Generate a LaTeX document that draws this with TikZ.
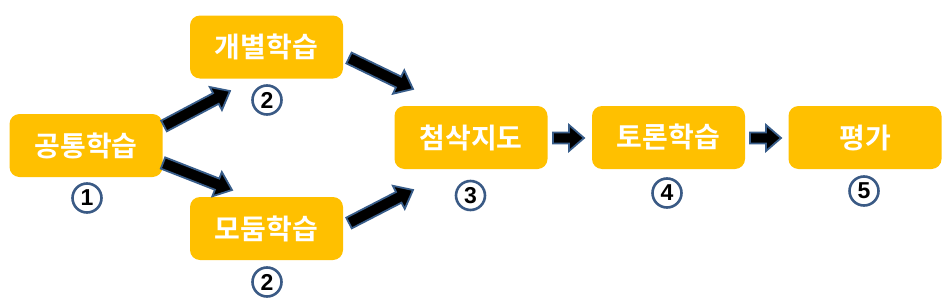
\documentclass[tikz,border=0pt]{standalone}
\usepackage{fontspec}
\usetikzlibrary{calc}
\newfontfamily\kr{Noto Sans CJK KR Bold}
\newfontfamily\numfont{Liberation Sans}
\definecolor{boxgold}{HTML}{FFC000}
\definecolor{arrblue}{HTML}{385D8A}
\definecolor{numblue}{HTML}{3A5A85}
\newcommand\blockarrow[5]{%
 \path let \p1=(#1), \p2=(#2) in \pgfextra{%
   \pgfmathsetmacro\baang{atan2((\y2)-(\y1),(\x2)-(\x1))}%
   \pgfmathsetmacro\balen{veclen((\x2)-(\x1),(\y2)-(\y1))}%
   \pgfmathsetmacro\babase{\balen-#5}%
   \xdef\baang{\baang}\xdef\balen{\balen}\xdef\babase{\babase}};
 \draw[blockarr, shift={(#1)}, rotate=\baang] (0pt,-#3 pt) -- (\babase pt,-#3 pt) -- (\babase pt,-#4 pt) -- (\balen pt,0pt) -- (\babase pt,#4 pt) -- (\babase pt,#3 pt) -- (0pt,#3 pt) -- cycle;
}
\tikzset{
 box/.style={fill=boxgold, rounded corners=10pt, minimum width=153pt, minimum height=63pt, inner sep=0pt, text=white, font=\kr\fontsize{28}{32}\selectfont},
 num/.style={circle, draw=numblue, line width=2.6pt, fill=white, minimum size=29pt, inner sep=0pt, font=\numfont\bfseries\fontsize{23}{26}\selectfont},
 blockarr/.style={fill=black, draw=arrblue, line width=1.8pt, line join=miter}
}
\begin{document}
\begin{tikzpicture}[x=1pt,y=-1pt]
\useasboundingbox (0,0) rectangle (951,308);
\node[box] (n1) at (86,145.5) {공통학습};
\node[box] (n2a) at (266.5,47) {개별학습};
\node[box] (n2b) at (266.5,228.5) {모둠학습};
\node[box] (n3) at (471,137.5) {첨삭지도};
\node[box] (n4) at (668.5,137.5) {토론학습};
\node[box] (n5) at (865,137.5) {평가};
\node[num] (c1) at (87,198) {1};
\node[num] (c2a) at (267,100) {2};
\node[num] (c2b) at (267,282) {2};
\node[num] (c3) at (470.5,195.5) {3};
\node[num] (c4) at (667,193) {4};
\node[num] (c5) at (864,191) {5};
\coordinate (a1s) at (164,126); \coordinate (a1e) at (230,91);
\coordinate (a2s) at (163,163); \coordinate (a2e) at (232,190);
\coordinate (a3s) at (349,58);  \coordinate (a3e) at (413,89);
\coordinate (a4s) at (349,223); \coordinate (a4e) at (413,190);
\coordinate (a5s) at (553,138); \coordinate (a5e) at (584,138);
\coordinate (a6s) at (750,138); \coordinate (a6e) at (781,138);
\blockarrow{a1s}{a1e}{6}{13}{16}
\blockarrow{a2s}{a2e}{6}{13}{16}
\blockarrow{a3s}{a3e}{6}{13}{16}
\blockarrow{a4s}{a4e}{6}{13}{16}
\blockarrow{a5s}{a5e}{5.5}{13}{15}
\blockarrow{a6s}{a6e}{5.5}{13}{15}
\end{tikzpicture}
\end{document}
